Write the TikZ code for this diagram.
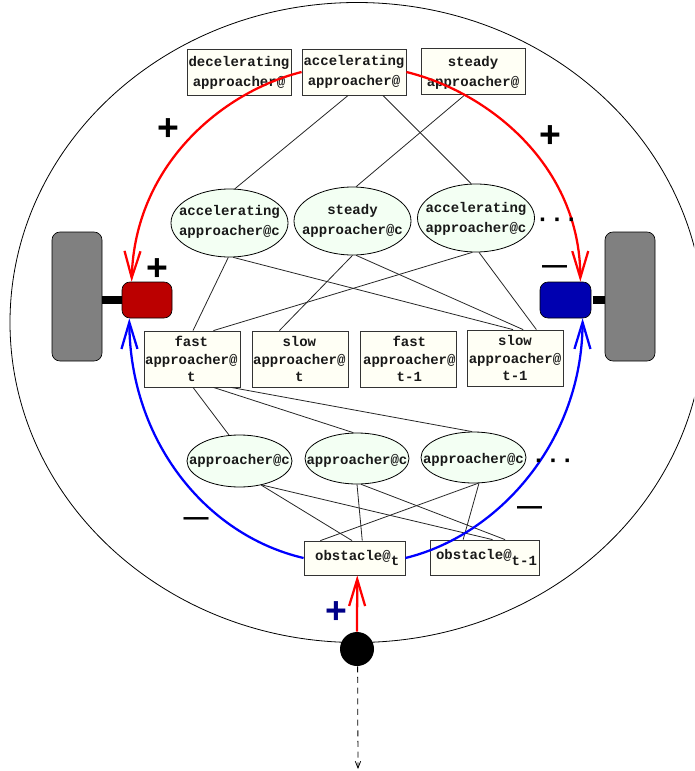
\documentclass[tikz,border=0pt]{standalone}
\usepackage{fontspec}
\setmonofont{Liberation Mono}
\setsansfont{Liberation Sans}
\usetikzlibrary{shapes.geometric,arrows.meta}
\definecolor{boxfill}{HTML}{FFFFF5}
\definecolor{ellfill}{HTML}{F3FFF3}
\definecolor{wheelgray}{HTML}{808080}
\definecolor{motred}{HTML}{BB0000}
\definecolor{motblue}{HTML}{0000B0}
\definecolor{arrred}{HTML}{FF0000}
\definecolor{arrblue}{HTML}{0000FF}
\definecolor{navyplus}{HTML}{000088}
\tikzset{
  wh/.style 2 args={minimum width=#1*0.75pt,minimum height=#2*0.75pt},
  lab/.style={font=\ttfamily\bfseries\fontsize{10.5}{15}\selectfont,align=center,inner sep=0pt,text=black!90},
  lab3/.style={font=\ttfamily\bfseries\fontsize{10.5}{13}\selectfont,align=center,inner sep=0pt,text=black!90},
  boxn/.style={draw=black!80,line width=0.6pt,fill=boxfill,rectangle,inner sep=0pt},
  elln/.style={draw=black,line width=0.6pt,fill=ellfill,ellipse,inner sep=0pt},
  wheel/.style={draw=black,line width=0.5pt,fill=wheelgray,rectangle,rounded corners=8*0.75pt,inner sep=0pt},
  motor/.style={draw=black,line width=0.5pt,rectangle,rounded corners=8*0.75pt,inner sep=0pt},
  axle/.style={line width=5.5pt},
  link/.style={draw=black!85,line width=0.6pt},
  drive/.style={line width=1.7pt,-{Straight Barb[length=20pt,width=12pt,line width=1.7pt]}},
  plussign/.style={font=\sffamily\bfseries\fontsize{28}{28}\selectfont,inner sep=0pt,text=black},
  minussign/.style={font=\sffamily\bfseries\fontsize{18.75}{18.75}\selectfont,inner sep=0pt,text=black},
  dotsign/.style={font=\ttfamily\bfseries\fontsize{18}{18}\selectfont,inner sep=0pt,text=black},
}
\begin{document}
\begin{tikzpicture}[x=0.75pt,y=-0.75pt]
\useasboundingbox (0,0) rectangle (694,771);
\begin{scope}
\clip (0,0) rectangle (694,771);
\node[draw=black,line width=0.6pt,ellipse,inner sep=0pt,wh={694}{640}] (body) at (357,322.5) {};
\end{scope}
% top boxes
\node[boxn,wh={104}{46},label={[lab,yshift=-0.8pt]center:{decelerating\\approacher@}}] (dec) at (239,72) {};
\node[boxn,wh={104}{46},label={[lab]center:{accelerating\\approacher@}}] (acc) at (354,72) {};
\node[boxn,wh={104}{46},label={[lab,yshift=-1.2pt]center:{steady\\approacher@}}] (std) at (473,71) {};
% upper ellipses
\node[elln,wh={117}{68},label={[lab,yshift=1.2pt]center:{accelerating\\approacher@c}}] (ea) at (229.5,223) {};
\node[elln,wh={117}{68},label={[lab]center:{steady\\approacher@c}}] (eb) at (352.5,221) {};
\node[elln,wh={117}{68},label={[lab,yshift=-0.7pt]center:{accelerating\\approacher@c}}] (ec) at (476,218) {};
% middle boxes
\node[boxn,wh={96}{56},label={[lab3,xshift=-0.5pt]center:{fast\\approacher@\\t}}] (ft) at (192,359) {};
\node[boxn,wh={96}{56},label={[lab3,xshift=-0.5pt]center:{slow\\approacher@\\t}}] (st) at (300,359) {};
\node[boxn,wh={96}{56},label={[lab3,xshift=1pt]center:{fast\\approacher@\\t-1}}] (fp) at (408,359) {};
\node[boxn,wh={96}{56},label={[lab3]center:{slow\\approacher@\\t-1}}] (sp) at (515,358) {};
% lower ellipses
\node[elln,wh={105}{52},label={[lab]center:{approacher@c}}] (la) at (239.5,461) {};
\node[elln,wh={104}{51},label={[lab,yshift=-1.5pt]center:{approacher@c}}] (lb) at (357,458.5) {};
\node[elln,wh={105}{51},label={[lab,yshift=-1.7pt]center:{approacher@c}}] (lc) at (473.5,457.5) {};
% obstacle boxes
\node[boxn,wh={101}{34},label={[lab,xshift=2pt]center:{obstacle@\raisebox{-4pt}{t}}}] (ot) at (354.5,558) {};
\node[boxn,wh={109}{35},label={[lab,xshift=1.5pt]center:{obstacle@\raisebox{-4pt}{t-1}}}] (op) at (484.5,557.5) {};
% wheels and motors
\node[wheel,wh={50}{129}] (wl) at (77,296.5) {};
\node[wheel,wh={50}{129}] (wr) at (630,296.5) {};
\node[motor,fill=motred,wh={50}{36}] (ml) at (147,300) {};
\node[motor,fill=motblue,wh={51}{36}] (mr) at (565.5,300) {};
\draw[axle] (wl.east |- ml.west) -- (ml.west);
\draw[axle] ([xshift=1pt]mr.east) -- (wr.west |- mr.east);
% sensor
\node[circle,fill=black,inner sep=0pt,minimum size=34*0.75pt] (eye) at (357,649) {};
\coordinate (far) at (358,769);
% connectors
\draw[link] (acc.-104) -- (ea.81.3);
\draw[link] (acc.-39.6) -- (ec.98.9);
\draw[link] (std.-108.4) -- (eb.84);
\draw[link] (ea.-92.5) -- (ft.88);
\draw[link] (ea.-84) -- (sp.94);
\draw[link] (eb.-90) -- (st.126.9);
\draw[link] (eb.-84) -- (sp.74);
\draw[link] (ec.-96.7) -- (ft.53.1);
\draw[link] (ec.-85) -- (sp.53.1);
\draw[link] (ft.-88) -- (la.112.4);
\draw[link] (ft.-53.1) -- (lb.98.9);
\draw[link] (ft.-36.4) -- (lc.93.4);
\draw[link] (la.-48) -- (ot.98.4);
\draw[link] (la.-47) -- (op.66.8);
\draw[link] (lb.-90) -- (ot.66.2);
\draw[link] (lb.-81) -- (op.41.9);
\draw[link] (lc.-80) -- (ot.153.1);
\draw[link] (lc.-78) -- (op.140.9);
% drive arcs
\draw[drive,arrred] (acc.west) .. controls (222,92) and (135,165) .. (ml.130);
\draw[drive,arrred] (acc.east) .. controls (488,92) and (580,165) .. (mr.51);
\draw[drive,arrblue] (ot.west) .. controls (205,535) and (130,440) .. (ml.-134);
\draw[drive,arrblue] (ot.east) .. controls (500,535) and (582,440) .. (mr.-47.5);
\draw[drive,arrred] (eye.north) -- (ot.-81.6);
\draw[dash pattern=on 4.5pt off 3.5pt,line width=0.6pt,-{Straight Barb[length=5pt,width=4pt]}] (eye.-88) -- (far);
% signs
\node[plussign] (p1) at (168,130) {+};
\node[plussign] (p2) at (550,137) {+};
\node[plussign] (p3) at (157.5,270) {+};
\node[plussign,text=navyplus] (p4) at (336.5,613) {+};
\node[minussign] (m1) at (554.5,270) {—};
\node[minussign] (m2) at (196,522) {—};
\node[minussign] (m3) at (529.5,511) {—};
\node[dotsign] (d1) at (557,222) {···};
\node[dotsign] (d2) at (553,463) {···};
\end{tikzpicture}
\end{document}
